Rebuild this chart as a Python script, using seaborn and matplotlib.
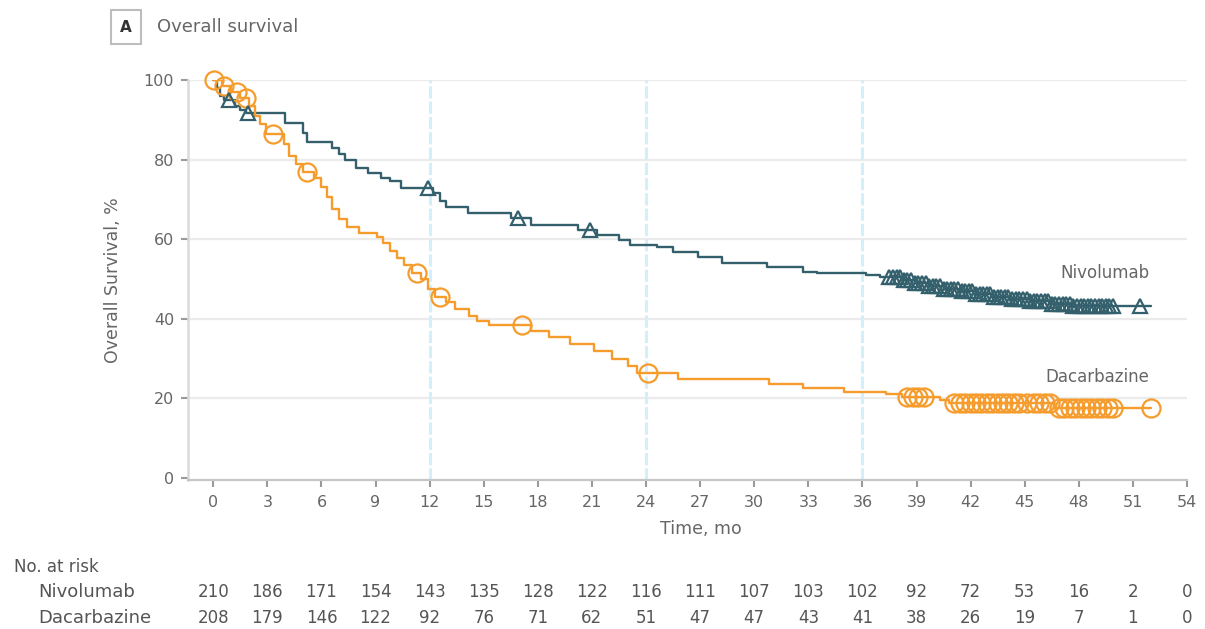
import numpy as np
import pandas as pd
import matplotlib
matplotlib.use("Agg")
import matplotlib.pyplot as plt
import matplotlib.transforms as mtransforms
import seaborn as sns

# ---------------- data ----------------
nivo_t = [0, 0.2, 0.4, 0.6, 1.2, 1.5, 1.8, 4.0, 5.0, 5.2, 6.6, 7.0, 7.3, 7.9, 8.6, 9.3, 9.8,
          10.4, 12.2, 12.6, 12.9, 14.1, 16.5, 17.6, 20.2, 21.3, 22.5, 23.1, 24.6, 25.5, 26.9,
          28.2, 30.7, 32.7, 33.5, 36.2, 37.0, 38.2, 38.9, 39.7, 40.5, 41.4, 42.3, 43.2, 44.2,
          45.3, 46.4, 47.6, 52.0]
nivo_s = [100, 98, 96, 95, 93.5, 92.5, 91.7, 89.2, 86.7, 84.4, 83, 81.5, 80, 78, 76.6, 75.5, 74.5,
          72.9, 71.5, 69.5, 68, 66.6, 65.3, 63.6, 62.2, 61, 59.8, 58.5, 58, 56.8, 55.5,
          54, 53, 51.8, 51.5, 51, 50.5, 49.8, 49.0, 48.3, 47.6, 47.0, 46.3, 45.6, 45.0,
          44.4, 43.8, 43.3, 43.3]
nivo_cens = [0.9, 1.9, 11.9, 16.9, 20.9,
             37.5, 37.7, 37.9, 38.1, 38.3, 38.5, 38.7, 38.9, 39.1, 39.3, 39.5, 39.7, 39.9,
             40.1, 40.3, 40.5, 40.7, 40.9, 41.1, 41.3, 41.5, 41.7, 41.9, 42.1, 42.3, 42.5,
             42.7, 42.9, 43.1, 43.3, 43.5, 43.7, 43.9, 44.1, 44.3, 44.5, 44.7, 44.9, 45.1,
             45.3, 45.5, 45.7, 45.9, 46.1, 46.3, 46.5, 46.7, 46.9, 47.1, 47.3, 47.5, 47.7,
             47.9, 48.1, 48.3, 48.5, 48.7, 48.9, 49.1, 49.3, 49.5, 49.7, 49.9, 51.4]

daca_t = [0, 0.5, 1.0, 1.5, 2.0, 2.3, 2.6, 2.9, 3.9, 4.2, 4.6, 5.0, 5.6, 6.0, 6.3, 6.6, 7.0,
          7.4, 8.1, 9.1, 9.4, 9.8, 10.2, 10.6, 11.0, 11.5, 11.9, 12.3, 12.9, 13.4, 14.2, 14.6,
          15.3, 17.6, 18.6, 19.8, 21.1, 22.1, 23.0, 23.5, 25.8, 30.8, 32.7, 35.0, 37.3, 38.2,
          40.3, 40.8, 46.6, 52.0]
daca_s = [100, 98.5, 97, 95.5, 93.5, 91, 89, 86.5, 84, 81, 79, 77, 75.5, 73, 70.5, 67.5, 65,
          63, 61.5, 60.5, 59, 57, 55.3, 53.5, 51.5, 50, 47.5, 45.5, 44.3, 42.5, 40.8, 39.5,
          38.4, 36.9, 35.4, 33.6, 31.8, 29.8, 28.2, 26.5, 25, 23.5, 22.6, 21.7, 21, 20.3,
          19.6, 18.8, 17.6, 17.6]
daca_cens = [0.05, 0.6, 1.3, 1.8, 3.3, 5.2, 11.3, 12.6, 17.1, 24.1,
             38.5, 38.8, 39.1, 39.4, 41.1, 41.4, 41.7, 42.0, 42.3, 42.6, 42.9, 43.2, 43.5,
             43.8, 44.1, 44.4, 44.7, 45.1, 45.5, 45.8, 46.1, 46.4, 46.9, 47.2, 47.5, 47.8,
             48.1, 48.4, 48.7, 49.0, 49.3, 49.6, 49.9, 52.0]

risk_times = [0, 3, 6, 9, 12, 15, 18, 21, 24, 27, 30, 33, 36, 39, 42, 45, 48, 51, 54]
nivo_risk = [210, 186, 171, 154, 143, 135, 128, 122, 116, 111, 107, 103, 102, 92, 72, 53, 16, 2, 0]
daca_risk = [208, 179, 146, 122, 92, 76, 71, 62, 51, 47, 47, 43, 41, 38, 26, 19, 7, 1, 0]

NIVO_C = "#33606c"
DACA_C = "#f59c2c"
TXT = "#666666"

def step_at(ts, ss, x):
    idx = np.searchsorted(np.asarray(ts), np.asarray(x), side="right") - 1
    return np.asarray(ss)[idx]

df = pd.concat([
    pd.DataFrame({"time": nivo_t, "surv": nivo_s, "arm": "Nivolumab"}),
    pd.DataFrame({"time": daca_t, "surv": daca_s, "arm": "Dacarbazine"}),
])

sns.set_theme(style="white")
plt.rcParams["font.family"] = ["DejaVu Sans"]

fig = plt.figure(figsize=(12.05, 6.29), dpi=100)
ax = fig.add_axes([188 / 1205, 1 - 480 / 629, 999 / 1205, 400 / 629])

# grid
for yv in [20, 40, 60, 80, 100]:
    ax.axhline(yv, color="#ebebeb", lw=1.6, zorder=0)
for xv in [12, 24, 36]:
    ax.axvline(xv, color="#d2effb", lw=2.2, ls=(0, (4, 1)), zorder=0.5)

sns.lineplot(data=df, x="time", y="surv", hue="arm",
             palette={"Nivolumab": NIVO_C, "Dacarbazine": DACA_C},
             drawstyle="steps-post", lw=1.7, legend=False, ax=ax, zorder=3,
             estimator=None, sort=False)

ax.plot(daca_cens, step_at(daca_t, daca_s, daca_cens), ls="none", marker="o",
        ms=13, mfc="none", mec=DACA_C, mew=1.6, zorder=4, clip_on=False)
ax.plot(nivo_cens, step_at(nivo_t, nivo_s, nivo_cens), ls="none", marker="^",
        ms=10.5, mfc="none", mec=NIVO_C, mew=1.6, zorder=5, clip_on=False)

ax.set_xlim(-1.4, 54)
ax.set_ylim(-0.5, 100)
ax.set_xticks(risk_times)
ax.set_yticks([0, 20, 40, 60, 80, 100])
ax.tick_params(axis="both", which="both", length=5, width=1.5, color="#9a9a9a",
               labelsize=11.5, labelcolor=TXT, bottom=True, left=True)
ax.tick_params(axis="x", pad=6)
ax.tick_params(axis="y", pad=5)

for s in ["top", "right"]:
    ax.spines[s].set_visible(False)
ax.spines["left"].set_color("#dadada")
ax.spines["left"].set_linewidth(1.8)
ax.spines["bottom"].set_color("#c6c6c6")
ax.spines["bottom"].set_linewidth(1.6)

ax.set_xlabel("Time, mo", fontsize=12.5, color=TXT)
ax.set_ylabel("Overall Survival, %", fontsize=12.5, color=TXT)
ax.xaxis.set_label_coords(0.513, -0.1)
ax.yaxis.set_label_coords(-0.066, 0.5)

ax.text(51.9, 51.5, "Nivolumab", ha="right", va="center", fontsize=12, color=TXT)
ax.text(51.9, 25.5, "Dacarbazine", ha="right", va="center", fontsize=12, color=TXT)

# title
fig.text(126 / 1205, 1 - 27 / 629, "A", ha="center", va="center", fontsize=11,
         color="#333333", fontweight="bold",
         bbox=dict(boxstyle="square,pad=0.6", fc="white", ec="#bdbdbd", lw=1.5))
fig.text(157 / 1205, 1 - 27 / 629, "Overall survival", ha="left", va="center",
         fontsize=13, color=TXT)

# risk table
tr = mtransforms.blended_transform_factory(ax.transData, fig.transFigure)
fig.text(14 / 1205, 1 - 567 / 629, "No. at risk", ha="left", va="center",
         fontsize=12, color="#555555")
fig.text(38 / 1205, 1 - 592 / 629, "Nivolumab", ha="left", va="center",
         fontsize=13, color="#555555")
fig.text(38 / 1205, 1 - 618 / 629, "Dacarbazine", ha="left", va="center",
         fontsize=13, color="#555555")
for tx, n1, n2 in zip(risk_times, nivo_risk, daca_risk):
    ax.text(tx, 1 - 592 / 629, str(n1), transform=tr, ha="center", va="center",
            fontsize=12, color="#555555")
    ax.text(tx, 1 - 618 / 629, str(n2), transform=tr, ha="center", va="center",
            fontsize=12, color="#555555")

fig.savefig("out.png", dpi=100)
